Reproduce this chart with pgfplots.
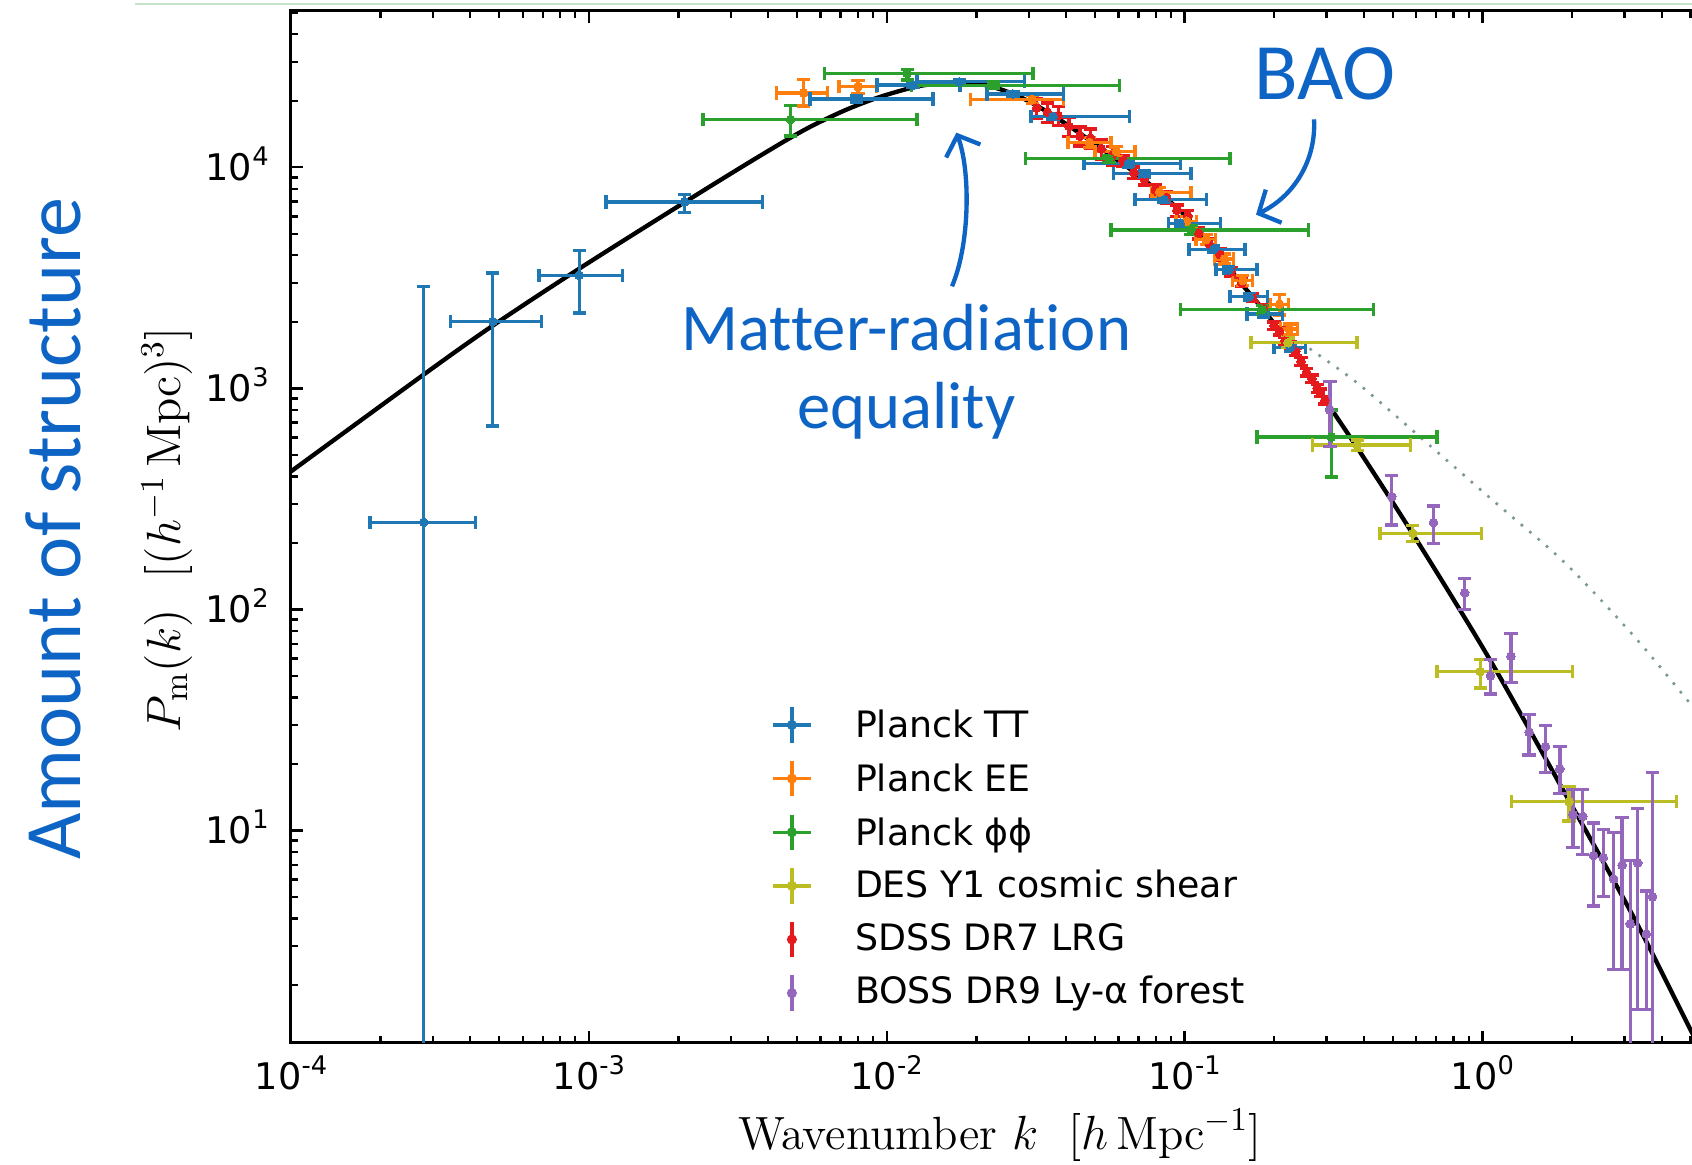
\documentclass[border=0pt]{standalone}
\usepackage{pgfplots}
\pgfplotsset{compat=1.18}
\usepackage{fontspec}
\usetikzlibrary{arrows.meta}
\newfontfamily\dejavu{DejaVu Sans}
\newfontfamily\carlito{Carlito}[Ligatures={NoCommon,NoRequired,NoContextual}]
\definecolor{tabblue}{HTML}{1F77B4}
\definecolor{taborange}{HTML}{FF7F0E}
\definecolor{tabgreen}{HTML}{2CA02C}
\definecolor{tabolive}{HTML}{BCBD22}
\definecolor{tabred}{HTML}{E41A1C}
\definecolor{tabpurple}{HTML}{9467BD}
\definecolor{annblue}{RGB}{14,100,196}
\definecolor{dotcol}{RGB}{125,150,150}
\definecolor{topline}{RGB}{200,228,200}
\newcommand{\tl}[1]{10\raisebox{4.6pt}[0pt][0pt]{\fontsize{7.7}{8}\selectfont #1}}
\newcommand{\legxyimg}[1]{%
  \path (-6pt,-7pt) rectangle (19pt,7pt);
  \draw[#1, line width=1pt] (-5.6pt,0)--(5.6pt,0) (0,-5.3pt)--(0,5.3pt)
    (-5.6pt,-1.9pt)--(-5.6pt,1.9pt) (5.6pt,-1.9pt)--(5.6pt,1.9pt)
    (-1.9pt,-5.3pt)--(1.9pt,-5.3pt) (-1.9pt,5.3pt)--(1.9pt,5.3pt);
  \fill[#1] (0,0) circle (1.3pt);}
\newcommand{\legyimg}[1]{%
  \path (-6pt,-7pt) rectangle (19pt,7pt);
  \draw[#1, line width=1pt] (0,-5.3pt)--(0,5.3pt)
    (-1.9pt,-5.3pt)--(1.9pt,-5.3pt) (-1.9pt,5.3pt)--(1.9pt,5.3pt);
  \fill[#1] (0,0) circle (1.3pt);}
\pgfplotsset{
  xyerr/.style={forget plot, only marks, mark=*, mark size=1.3pt, color=#1,
    mark options={fill=#1, draw=#1, line width=0pt},
    error bars/x dir=both, error bars/x explicit,
    error bars/y dir=both, error bars/y explicit,
    error bars/error bar style={line width=1pt, #1},
    error bars/error mark options={rotate=90, line width=1pt, mark size=2pt, #1}},
  yerr/.style={forget plot, only marks, mark=*, mark size=1.3pt, color=#1,
    mark options={fill=#1, draw=#1, line width=0pt},
    error bars/y dir=both, error bars/y explicit,
    error bars/error bar style={line width=1pt, #1},
    error bars/error mark options={rotate=90, line width=1pt, mark size=2pt, #1}},
}
\begin{document}
\begin{tikzpicture}
\useasboundingbox (-87.3pt,-36.6pt) rectangle (420.3pt,312.9pt);
\draw[topline, line width=0.6pt] (-46.8pt,311.6pt) -- (420.3pt,311.6pt);
\begin{axis}[
  at={(0pt,0pt)}, anchor=south west,
  scale only axis, width=428.9pt, height=309.6pt,
  xmode=log, ymode=log,
  xmin=1e-4, xmax=6.3096, ymin=1.094, ymax=50960,
  xtick={1e-4,1e-3,1e-2,1e-1,1},
  xticklabels={\tl{-4},\tl{-3},\tl{-2},\tl{-1},\tl{0}},
  ytick={10,100,1000,10000},
  yticklabels={\tl{1},\tl{2},\tl{3},\tl{4}},
  minor xtick={2e-4,3e-4,4e-4,5e-4,6e-4,7e-4,8e-4,9e-4,2e-3,3e-3,4e-3,5e-3,6e-3,7e-3,8e-3,9e-3,2e-2,3e-2,4e-2,5e-2,6e-2,7e-2,8e-2,9e-2,0.2,0.3,0.4,0.5,0.6,0.7,0.8,0.9,2,3,4,5,6},
  minor ytick={2,3,4,5,6,7,8,9,20,30,40,50,60,70,80,90,200,300,400,500,600,700,800,900,2000,3000,4000,5000,6000,7000,8000,9000,20000,30000,40000,50000},
  tick align=inside, xtick pos=both, ytick pos=both,
  major tick length=3.6pt, minor tick length=2.1pt,
  every tick/.style={black, line width=0.7pt},
  axis line style={line width=0.9pt},
  tick label style={font=\dejavu\fontsize{11}{13}\selectfont},
  xticklabel style={anchor=center, yshift=-9.9pt},
  yticklabel style={anchor=east, inner sep=0pt, xshift=-6.5pt},
  legend style={at={(0.3357,0.3275)}, anchor=north west, draw=none, fill=none,
    inner sep=0pt, row sep=0.5pt, cells={anchor=west},
    font=\fontsize{5}{6}\selectfont},
]
% theory curve
\addplot[black, line width=1.3pt, smooth, forget plot] table {
k P
1e-4 421
2.79e-4 1155
4.76e-4 1923
9.28e-4 3479
2.10e-3 6957
3.324e-3 10200
4.642e-3 13360
5.67e-3 15500
7.345e-3 18260
9.512e-3 20840
1.263e-2 23200
1.556e-2 23990
1.917e-2 23990
2.208e-2 23330
2.676e-2 21420
3.162e-2 19140
3.583e-2 17300
4.129e-2 15270
5.482e-2 11690
6.699e-2 9625
8.05e-2 7901
0.1017 5953
0.1253 4306
0.1543 3006
0.1901 2146
0.2343 1465
0.3058 836
0.3864 521
0.5394 260
0.785 115.7
1.1146 52.7
1.917 14.3
3.215 4.07
5.046 1.224
6.06 0.755
};
% nonlinear dotted
\addplot[dotcol, line width=1.1pt, line cap=round, dash pattern=on 0pt off 3.3pt, smooth, forget plot] table {
k P
0.1901 2146
0.2483 1603
0.380 1058
0.6507 566.6
1.110 303
1.893 162.4
3.234 75.5
4.963 37.8
5.58 31.4
};
% SDSS DR7 LRG
\addplot[yerr=tabred] table[x=k, y=P, y error minus=e, y error plus=e] {
k P e
0.03189 18550 1855
0.03467 17740 1774
0.03767 17150 1715
0.04095 15320 1532
0.04452 13850 1385
0.04838 13540 1354
0.05260 12100 1210
0.05717 11320 1132
0.06214 10700 642
0.06755 9454 567
0.07342 8837 530
0.07982 7901 474
0.08676 7302 438
0.09432 6380 383
0.1025 6033 362
0.1115 5040 302
0.1211 4505 270
0.1317 4026 242
0.1432 3364 135
0.1556 3006 120
0.1692 2570 103
0.1839 2296 92
0.1999 1918 77
0.2084 1814 73
0.2173 1639 66
0.2265 1558 62
0.2362 1465 59
0.2462 1324 53
0.2567 1183 47
0.2677 1107 44
0.2791 1000 40
0.2861 956 38
0.2958 884 35
};
% Planck EE
\addplot[xyerr=taborange] table[x=k, y=P, x error minus=kl, x error plus=kh, y error minus=pl, y error plus=ph] {
k P kl kh pl ph
5.26e-3 21700 0.99e-3 1.06e-3 2730 3280
8.02e-3 23140 1.11e-3 1.23e-3 1500 1600
3.08e-2 20300 1.17e-2 0.85e-2 900 900
4.80e-2 12950 0.74e-2 0.87e-2 700 700
5.91e-2 11800 0.91e-2 0.9e-2 600 600
8.25e-2 7720 0.47e-2 2.26e-2 400 400
0.1017 5703 0.008 0.008 300 300
0.1182 4712 0.009 0.009 250 250
0.1362 3850 0.01 0.01 200 200
0.1569 3074 0.012 0.012 160 160
0.2084 2402 0.015 0.015 256 255
0.2246 1855 0.015 0.015 100 100
};
% Planck TT
\addplot[xyerr=tabblue] table[x=k, y=P, x error minus=kl, x error plus=kh, y error minus=pl, y error plus=ph] {
k P kl kh pl ph
2.79e-4 248 0.95e-4 1.38e-4 247.5 2652
4.76e-4 2006 1.32e-4 2.17e-4 1331 1321
9.28e-4 3251 2.47e-4 3.67e-4 1056 959
2.10e-3 6980 0.957e-3 1.73e-3 745 570
7.92e-3 20400 2.39e-3 6.40e-3 700 700
1.226e-2 23530 2.99e-3 5.38e-3 600 600
1.754e-2 24370 4.91e-3 1.155e-2 600 600
2.654e-2 21470 4.81e-3 1.274e-2 600 600
3.614e-2 16960 5.6e-3 2.92e-2 500 500
6.48e-2 10400 1.88e-2 3.19e-2 350 350
7.34e-2 9350 1.57e-2 3.17e-2 300 300
8.54e-2 7140 1.73e-2 3.28e-2 220 220
9.67e-2 5580 0.85e-2 3.5e-2 180 180
0.1253 4260 0.0219 0.0342 140 140
0.1408 3440 0.0134 0.0341 110 110
0.165 2600 0.023 0.025 90 90
0.1838 2170 0.0216 0.0299 70 70
0.2265 1530 0.0266 0.028 60 60
};
% Planck phiphi
\addplot[xyerr=tabgreen] table[x=k, y=P, x error minus=kl, x error plus=kh, y error minus=pl, y error plus=ph] {
k P kl kh pl ph
4.76e-3 16470 2.34e-3 7.87e-3 2620 2580
1.172e-2 26570 5.53e-3 1.924e-2 1760 1130
2.284e-2 23480 1.072e-2 3.776e-2 800 800
5.58e-2 10940 2.65e-2 8.62e-2 400 400
0.1051 5210 0.0484 0.156 250 250
0.1823 2270 0.0856 0.248 100 100
0.311 603 0.136 0.393 205 196
};
% DES Y1
\addplot[xyerr=tabolive] table[x=k, y=P, x error minus=kl, x error plus=kh, y error minus=pl, y error plus=ph] {
k P kl kh pl ph
0.2227 1610 0.0555 0.157 80 80
0.380 555 0.111 0.195 30 30
0.584 221 0.131 0.408 18 18
0.9835 52.4 0.279 1.024 8.3 6.8
1.956 13.5 0.704 2.533 2.47 2.31
};
% BOSS DR9 Ly-alpha
\addplot[yerr=tabpurple] table[x=k, y=P, y error minus=pl, y error plus=ph] {
k P pl ph
0.3075 799 254 274
0.4963 324 83 79
0.6853 247 48 47
0.872 119 19 19.5
1.065 50.1 8.7 9.1
1.247 61.5 14.9 16.2
1.435 27.8 5.8 5.8
1.629 24.0 5.7 5.8
1.820 19.0 4.3 5.0
2.015 11.8 3.44 3.5
2.173 11.6 3.8 3.7
2.362 7.72 3.16 3.1
2.546 7.55 2.51 2.55
2.758 6.03 3.68 3.75
2.945 6.98 4.63 4.5
3.136 3.78 3.28 3.55
3.324 7.14 5.59 5.4
3.553 3.40 1.85 1.93
3.724 5.01 4.51 13.3
};
\addlegendimage{legend image code/.code={\legxyimg{tabblue}}}
\addlegendentry{\phantom{.}}
\addlegendimage{legend image code/.code={\legxyimg{taborange}}}
\addlegendentry{\phantom{.}}
\addlegendimage{legend image code/.code={\legxyimg{tabgreen}}}
\addlegendentry{\phantom{.}}
\addlegendimage{legend image code/.code={\legxyimg{tabolive}}}
\addlegendentry{\phantom{.}}
\addlegendimage{legend image code/.code={\legyimg{tabred}}}
\addlegendentry{\phantom{.}}
\addlegendimage{legend image code/.code={\legyimg{tabpurple}}}
\addlegendentry{\phantom{.}}
\end{axis}
% legend texts
\begin{scope}[every node/.style={anchor=base west, inner sep=0pt, font=\dejavu\fontsize{10.9}{13}\selectfont}]
\node at (169pt,91.7pt) {Planck TT};
\node at (169pt,75.5pt) {Planck EE};
\node at (169pt,59.3pt) {Planck ϕϕ};
\node at (169pt,43.5pt) {DES Y1 cosmic shear};
\node at (169pt,27.6pt) {SDSS DR7 LRG};
\node at (169pt,11.8pt) {BOSS DR9 Ly-α forest};
\end{scope}
% axis labels
\node[font=\fontsize{14}{16}\selectfont] at (212.7pt,-27.6pt) {Wavenumber $k$\ \ $[h\,\mathrm{Mpc}^{-1}]$};
\node[rotate=90, font=\fontsize{14.5}{17}\selectfont] at (-37.2pt,154pt) {$P_\mathrm{m}(k)$\ \ $[(h^{-1}\,\mathrm{Mpc})^3]$};
% annotations
\node[rotate=90, anchor=base, inner sep=0pt, text=annblue, font=\carlito\fontsize{24}{28}\selectfont] at (-63pt,154.3pt) {Amount of structure};
\node[anchor=base, inner sep=0pt, text=annblue, font=\carlito\fontsize{24}{28}\selectfont] at (310.2pt,283.1pt) {BAO};
\node[anchor=base, inner sep=0pt, text=annblue, font=\carlito\fontsize{20}{24}\selectfont] at (184.6pt,207.7pt) {Matter-radiation};
\node[anchor=base, inner sep=0pt, text=annblue, font=\carlito\fontsize{20}{24}\selectfont] at (184.6pt,184.4pt) {equality};
\draw[annblue, line width=1.3pt, -{Straight Barb[length=5pt, width=11pt, line width=1.3pt]}] (198.3pt,227pt) .. controls (203.8pt,240pt) and (203.8pt,262pt) .. (199.6pt,273.1pt);
\draw[annblue, line width=1.3pt, -{Straight Barb[length=5pt, width=11pt, line width=1.3pt]}] (306.9pt,277.1pt) .. controls (307.6pt,265pt) and (301pt,254pt) .. (289.5pt,248.5pt);
\end{tikzpicture}
\end{document}
